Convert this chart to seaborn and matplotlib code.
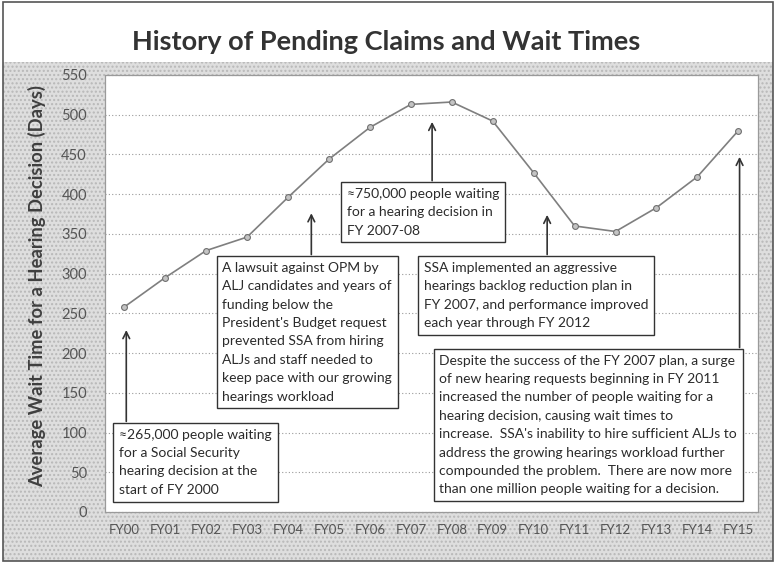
import matplotlib
matplotlib.use('Agg')
import matplotlib.pyplot as plt
import numpy as np
import pandas as pd
import seaborn as sns
from matplotlib.patches import Rectangle

years = ['FY00', 'FY01', 'FY02', 'FY03', 'FY04', 'FY05', 'FY06', 'FY07',
         'FY08', 'FY09', 'FY10', 'FY11', 'FY12', 'FY13', 'FY14', 'FY15']
wait_days = [258, 295, 329, 346, 396, 444, 484, 513,
             516, 492, 427, 360, 353, 383, 422, 480]

notes = [
    "≈265,000 people waiting\nfor a Social Security\nhearing decision at the\nstart of FY 2000",
    "A lawsuit against OPM by\nALJ candidates and years of\nfunding below the\nPresident's Budget request\n"
    "prevented SSA from hiring\nALJs and staff needed to\nkeep pace with our growing\nhearings workload",
    "≈750,000 people waiting\nfor a hearing decision in\nFY 2007-08",
    "SSA implemented an aggressive\nhearings backlog reduction plan in\nFY 2007, and performance improved\neach year through FY 2012",
    "Despite the success of the FY 2007 plan, a surge\nof new hearing requests beginning in FY 2011\n"
    "increased the number of people waiting for a\nhearing decision, causing wait times to\n"
    "increase.  SSA's inability to hire sufficient ALJs to\naddress the growing hearings workload further\n"
    "compounded the problem.  There are now more\nthan one million people waiting for a decision.",
]
# box top-left corner (x index, days), arrow x, arrow tip (days)
note_box = [(-0.22, 111), (2.30, 321), (5.33, 414), (7.21, 321), (7.60, 204)]
note_arrow = [(0.05, 229), (4.57, 376), (7.52, 491), (10.33, 374), (15.03, 447)]

df = pd.DataFrame({'year': years, 'days': wait_days})
df['pos'] = range(len(df))

sns.set_theme(style='white')
plt.rcParams['font.family'] = ['Lato', 'DejaVu Sans']

fig = plt.figure(figsize=(7.76, 5.63), dpi=100)
fig.patch.set_facecolor('white')

# textured grey background below the title band
bg = Rectangle((0.004, 0.004), 0.992, 0.885, transform=fig.transFigure,
               facecolor='#dedede', edgecolor='#b8b8b8', hatch='....',
               linewidth=0, zorder=-10)
fig.patches.append(bg)
fig.patches.append(Rectangle((0.004, 0.004), 0.992, 0.992, transform=fig.transFigure,
                             facecolor='none', edgecolor='#555555', linewidth=1.2,
                             zorder=-9))

ax = fig.add_axes([0.1353, 0.0906, 0.8415, 0.7762])
ax.set_facecolor('white')

sns.lineplot(data=df, x='pos', y='days', ax=ax, color='#7f7f7f', linewidth=1.2,
             marker='o', markersize=4.2, markerfacecolor='#c4c4c4',
             markeredgecolor='#707070', markeredgewidth=0.8)

ax.set_xlim(-0.47, 15.48)
ax.set_ylim(0, 550)
ax.set_yticks(np.arange(0, 551, 50))
ax.set_xticks(df['pos'])
ax.set_xticklabels(years)
ax.tick_params(axis='x', length=0, labelsize=9.5, colors='#555555', pad=9)
ax.tick_params(axis='y', length=0, labelsize=10.5, colors='#555555', pad=13)
ax.yaxis.grid(True, linestyle=(0, (1, 2)), color='#9a9a9a', linewidth=0.8)
for s in ax.spines.values():
    s.set_color('#9a9a9a')
    s.set_linestyle((0, (1, 1)))
    s.set_linewidth(0.9)
ax.set_xlabel('')
ax.set_ylabel('Average Wait Time for a Hearing Decision (Days)', fontsize=13.2,
              fontweight='bold', color='#3f3f3f')
ax.yaxis.set_label_coords(-0.09, 0.517)

fig.text(0.497, 0.925, 'History of Pending Claims and Wait Times', ha='center',
         va='center', fontsize=19.5, fontweight='bold', color='#333333')

for txt, (bx, by), (axx, tip) in zip(notes, note_box, note_arrow):
    ax.text(bx + 0.1, by - 6, txt, ha='left', va='top', fontsize=10,
            color='#2b2b2b', linespacing=1.64, zorder=5,
            bbox=dict(boxstyle='square,pad=0.42', facecolor='white',
                      edgecolor='#333333', linewidth=1))
    ax.annotate('', xy=(axx, tip), xytext=(axx, by + 3),
                arrowprops=dict(arrowstyle='->', color='#333333', lw=1.2,
                                shrinkA=0, shrinkB=0), zorder=4)

fig.savefig('out.png', dpi=100)
